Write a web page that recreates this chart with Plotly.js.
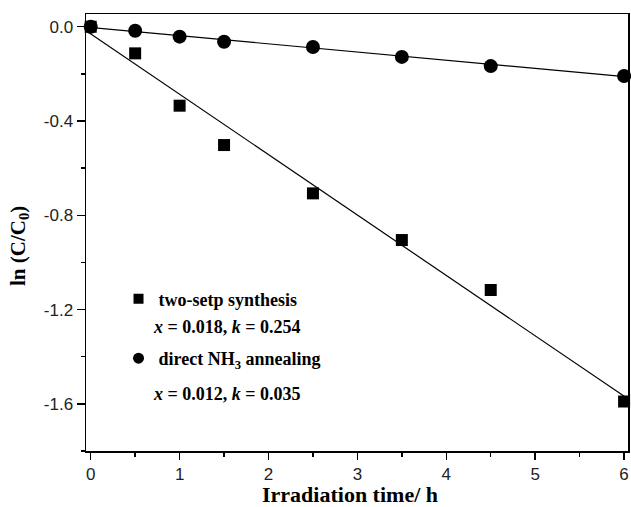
<!DOCTYPE html>
<html>
<head>
<meta charset="utf-8">
<script src="https://cdn.plot.ly/plotly-3.0.1.min.js"></script>
<style>html,body{margin:0;padding:0;background:#fff;}#chart{width:631px;height:507px;}</style>
</head>
<body>
<div id="chart"></div>
<script>
// Data
const timeH = [0, 0.5, 1, 1.5, 2.5, 3.5, 4.5, 6];
const twoStep = [0.0, -0.113, -0.335, -0.502, -0.707, -0.905, -1.117, -1.59];
const directNH3 = [0.0, -0.017, -0.042, -0.064, -0.086, -0.128, -0.167, -0.209];
// Linear fits: [intercept, slope]
const fitTwoStep = [-0.03, -0.2563];
const fitDirect = [-0.003, -0.0348];
const yTickVals = [0, -0.4, -0.8, -1.2, -1.6];
const yTickText = ['0.0', '-0.4', '-0.8', '-1.2', '-1.6'];
const xTickVals = [0, 1, 2, 3, 4, 5, 6];
const xTickText = ['0', '1', '2', '3', '4', '5', '6'];
const legendNames = ['two-setp synthesis', 'direct NH<sub>3</sub> annealing'];
const paramLines = ['<i>x</i> = 0.018, <i>k</i> = 0.254', '<i>x</i> = 0.012, <i>k</i> = 0.035'];
const xTitle = 'Irradiation time/ h';
const yTitle = 'ln (C/C<sub>0</sub>)';

const xRange = [-0.053, 6.044];
const yRange = [-1.8, 0.054];
const fitX = [xRange[0] + 0.005, xRange[1] - 0.005];
const line = (p) => fitX.map(x => p[0] + p[1] * x);

const serif = 'Liberation Serif, Times New Roman, serif';
const sans = 'Liberation Sans, Arial, sans-serif';

const traces = [
  {x: fitX, y: line(fitTwoStep), mode: 'lines', line: {color: '#000', width: 1.2}, showlegend: false, hoverinfo: 'skip'},
  {x: fitX, y: line(fitDirect), mode: 'lines', line: {color: '#000', width: 1.2}, showlegend: false, hoverinfo: 'skip'},
  {x: timeH, y: twoStep, mode: 'markers', showlegend: false,
   marker: {symbol: 'square', size: 12, color: '#000'}, cliponaxis: false},
  {x: timeH, y: directNH3, mode: 'markers', showlegend: false,
   marker: {symbol: 'circle', size: 14, color: '#000'}, cliponaxis: false},
  // legend-only entries (smaller legend symbols, as in the reference)
  {x: [null], y: [null], mode: 'markers', name: '<b>' + legendNames[0] + '</b>', legendgroup: 'a',
   marker: {symbol: 'square', size: 10, color: '#000'}},
  {x: [null], y: [null], mode: 'markers', name: '<b>' + legendNames[1] + '</b>', legendgroup: 'b',
   marker: {symbol: 'circle', size: 11, color: '#000'}}
];

const axisCommon = {
  showgrid: false, zeroline: false, showline: true, linecolor: '#000', linewidth: 1.5,
  mirror: true, ticks: 'outside', ticklen: 7, tickwidth: 1.5, tickcolor: '#000',
  tickfont: {family: sans, size: 17, color: '#222'}
};

const layout = {
  width: 631, height: 507,
  margin: {l: 86, r: 3, t: 14, b: 56},
  paper_bgcolor: '#fff', plot_bgcolor: '#fff',
  xaxis: Object.assign({}, axisCommon, {
    range: xRange, tickmode: 'array', tickvals: xTickVals, ticktext: xTickText,
    minor: {dtick: 0.5, tick0: 0, ticks: 'outside', ticklen: 4, tickwidth: 1.5, tickcolor: '#000'}
  }),
  yaxis: Object.assign({}, axisCommon, {
    range: yRange, tickmode: 'array', tickvals: yTickVals, ticktext: yTickText, ticklen: 8,
    minor: {dtick: 0.2, tick0: 0, ticks: 'outside', ticklen: 4, tickwidth: 1.5, tickcolor: '#000'}
  }),
  showlegend: true,
  legend: {
    x: 0.06, y: 0.39, xanchor: 'left', yanchor: 'top',
    bgcolor: 'rgba(0,0,0,0)', borderwidth: 0,
    font: {family: serif, size: 18, color: '#000'},
    tracegroupgap: 33, traceorder: 'grouped', itemwidth: 30
  },
  annotations: [
    {xref: 'paper', yref: 'paper', x: 0.12, y: 0.284, xanchor: 'left', yanchor: 'middle', showarrow: false,
     text: '<b>' + paramLines[0] + '</b>', font: {family: serif, size: 18, color: '#000'}},
    {xref: 'paper', yref: 'paper', x: 0.12, y: 0.13, xanchor: 'left', yanchor: 'middle', showarrow: false,
     text: '<b>' + paramLines[1] + '</b>', font: {family: serif, size: 18, color: '#000'}},
    {xref: 'paper', yref: 'paper', x: (350 - 86) / 542, y: -(495 - 451) / 437, xanchor: 'center', yanchor: 'middle', showarrow: false,
     text: '<b>' + xTitle + '</b>', font: {family: serif, size: 22, color: '#000'}},
    {xref: 'paper', yref: 'paper', x: -(86 - 19) / 542, y: (451 - 246) / 437, xanchor: 'center', yanchor: 'middle', showarrow: false,
     textangle: -90, text: '<b>' + yTitle + '</b>', font: {family: serif, size: 21, color: '#000'}}
  ]
};

Plotly.newPlot('chart', traces, layout, {displayModeBar: false, staticPlot: true});
</script>
</body>
</html>
